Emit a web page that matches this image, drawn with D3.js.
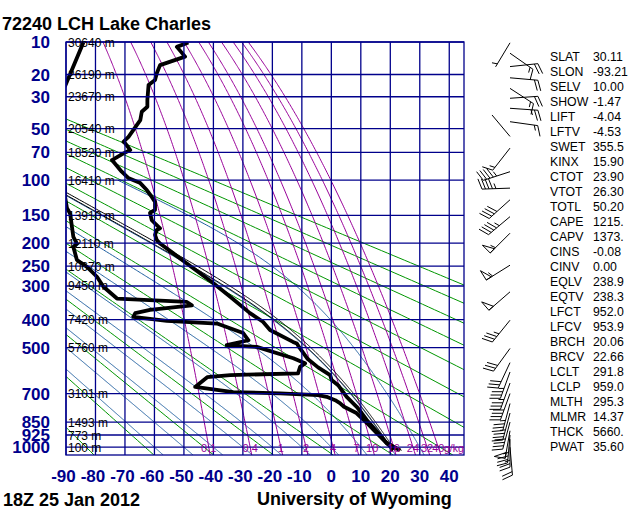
<!DOCTYPE html>
<html><head><meta charset="utf-8">
<script src="https://cdn.jsdelivr.net/npm/d3@7"></script>
<style>body{margin:0;background:#fff}svg{display:block}text{font-family:"Liberation Sans",Arial,Helvetica,sans-serif}</style>
</head><body>
<svg id="c" width="640" height="512"></svg>
<script>
// ---------- data ----------
const presLevels = [10,20,30,50,70,100,150,200,250,300,400,500,700,850,925,1000];
const presLabels = ["10","20","30","50","70","100","150","200","250","300","400","500","700","850","925","1000"];
const heightLabels = ["30640 m","26190 m","23670 m","20540 m","18520 m","16410 m","13910 m","12110 m","10670 m","9450 m","7420 m","5760 m","3101 m","1493 m","773 m","100 m"];
const tempTicks = [-90,-80,-70,-60,-50,-40,-30,-20,-10,0,10,20,30,40];
const mixRatios = [0.1,0.4,1,2,4,7,10,16,24,32,40];
const mixLabels = ["0.1","0.4","1","2","4","7","10","16","24","32","40"];
const dryThetas = [190,210,230,250,270,290,310,330,350,370,390,410,430,450];
const moistThetaW = [-60,-50,-40,-30,-20,-10,0,10,20,30];

const tempP = [1019,976,925,838,800,767,716,660,636,614,580,545,500,484,478,435,407,379,330,292,244,221,201,194,184,175,172,158,146,141,129,122,112.5,103.6,97.3,90,77.5,70.9,67.8,61.8,60.4,56.3,43.9,38.5,35.5,31.7,24.4,22.2,19.5,16.6,13.9,11.2,10.1];
const tempT = [23.3,18.8,16.5,12.0,10.3,8.6,5.2,2.3,0.1,-0.4,-4.5,-8.0,-10.8,-11.7,-13.0,-20.8,-23.2,-27.6,-34.3,-40.1,-49.0,-53.7,-58.1,-59.2,-59.8,-59.2,-58.1,-60.9,-61.5,-59.8,-59.8,-60.9,-62.6,-64.8,-68.9,-71.1,-74.4,-70.5,-68.2,-69.9,-70.5,-68.8,-64.8,-64.3,-62.4,-62.4,-62.0,-59.8,-59.2,-58.1,-49.6,-52.4,-48.5];

const dewP = [1019,1000,925,860,800,767,748,733,716,708,699,693,668,623,614,606,578,563,542,497,490,472,446,413,404,391,379,369,355,345,335,302,276,252,236,208,201,188,169,147,138,122,108,100,30,24.8,10.1];
const dewT = [21.0,20.2,16.0,12.4,8.5,4.3,2.9,1.3,-1.6,-4.5,-17.4,-33.3,-46.2,-42.1,-34.3,-11.3,-10.6,-8.9,-12.9,-25.3,-35.5,-28.1,-29.9,-38.8,-55.8,-67.2,-66.5,-61.5,-47.3,-49.0,-72.7,-77.3,-79.5,-82.9,-86.3,-87.5,-86.3,-87.5,-88.0,-88.6,-89.7,-90.3,-90.3,-100,-100,-90.3,-84.1];

// parcel: surface pressure, mixed-layer theta, LCL pressures and LCL temperatures (K)
const parcelSfcP = 1019, parcelTheta = 295.3;
const parcelLclP = [959.0, 974.0];
const parcelLclT = [291.8, 293.1];

const windP   = [10.2,12.9,17.1,21.3,25.9,30.8,36.4,45,56,66,90,110,126,152,181,248,316,402,503,560,600,650,700,750,800,850,900,925,950,1000];
const windDir = [211,125,84,95,123,86,94,98,320,218,252,268,228,230,225,238,229,219,216,205,200,200,200,195,195,195,190,185,180,175];
const windSpd = [5,15,20,20,15,20,25,15,2,15,45,45,40,45,55,55,50,35,30,30,35,35,40,35,35,40,50,35,25,20];

const indexNames = ["SLAT","SLON","SELV","SHOW","LIFT","LFTV","SWET","KINX","CTOT","VTOT","TOTL","CAPE","CAPV","CINS","CINV","EQLV","EQTV","LFCT","LFCV","BRCH","BRCV","LCLT","LCLP","MLTH","MLMR","THCK","PWAT"];
const indexValues = ["30.11","-93.21","10.00","-1.47","-4.04","-4.53","355.5","15.90","23.90","26.30","50.20","1215.","1373.","-0.08","0.00","238.9","238.3","952.0","953.9","20.06","22.66","291.8","959.0","295.3","14.37","5660.","35.60"];

// ---------- setup ----------
const svg = d3.select("#c");
svg.append("rect").attr("width",640).attr("height",512).attr("fill","#fff");
const x = d3.scaleLinear().domain([-90,45]).range([66,464]);
const y = d3.scalePow().exponent(0.286).domain([10,1050]).range([42,455]);
const line = d3.line().x(d=>x(d[1])).y(d=>y(d[0]));

svg.append("defs").append("clipPath").attr("id","plot")
  .append("rect").attr("x",66).attr("y",42).attr("width",398).attr("height",413);
const g = svg.append("g").attr("clip-path","url(#plot)");

const NAVY="#00008b", GREEN="#009600", BLUE="#1f5fa0", PURPLE="#990099";
const Rd=287.04, Cp=1005.7, Lv=2.501e6, eps=0.622;
const es = Tc => 6.112*Math.exp(17.67*Tc/(Tc+243.5));
function dTdp(p,T){const e=es(T-273.15);const rs=eps*e/(p-e);
  return (Rd*T+Lv*rs)/(p*(Cp+Lv*Lv*rs*eps/(Rd*T*T)));}
function moist(p0,T0,p1){ // T in K, returns [p, Tc]
  const out=[[p0,T0-273.15]]; let p=p0,T=T0; const h=(p1<p0?-2:2);
  while((h<0&&p>p1)||(h>0&&p<p1)){
    const k1=dTdp(p,T),k2=dTdp(p+h/2,T+h/2*k1),k3=dTdp(p+h/2,T+h/2*k2),k4=dTdp(p+h,T+h*k3);
    T+=h/6*(k1+2*k2+2*k3+k4); p+=h; out.push([p,T-273.15]);
    if(T<150) break;
  }
  return out;
}
const pSamples = d3.range(0,201).map(i=>10*Math.pow(105,i/200));

// moist adiabats
moistThetaW.forEach(tw=>{
  const up = moist(1000,tw+273.15,100).reverse();
  const down = moist(1000,tw+273.15,1050).slice(1);
  g.append("path").attr("d",line(up.concat(down))).attr("fill","none").attr("stroke",BLUE).attr("stroke-width",1);
});
// dry adiabats
dryThetas.forEach(th=>{
  const pts=pSamples.map(p=>[p, th*Math.pow(p/1000,0.286)-273.15]);
  g.append("path").attr("d",line(pts)).attr("fill","none").attr("stroke",GREEN).attr("stroke-width",1);
});
// mixing ratio lines
function mixT(w,p){const e=w*p/(622+w);const L=Math.log(e/6.112);return 243.5*L/(17.67-L);}
mixRatios.forEach(w=>{
  const pts=pSamples.map(p=>[p,mixT(w,p)]);
  g.append("path").attr("d",line(pts)).attr("fill","none").attr("stroke",PURPLE).attr("stroke-width",1);
});
// grid
presLevels.forEach(p=>{
  svg.append("line").attr("x1",66).attr("x2",464).attr("y1",y(p)).attr("y2",y(p)).attr("stroke",NAVY).attr("stroke-width",1.3);
});
tempTicks.forEach(t=>{
  svg.append("line").attr("x1",x(t)).attr("x2",x(t)).attr("y1",42).attr("y2",455).attr("stroke",NAVY).attr("stroke-width",1.3);
});
svg.append("rect").attr("x",66).attr("y",42).attr("width",398).attr("height",413).attr("fill","none").attr("stroke",NAVY).attr("stroke-width",1.3);

// mixing ratio labels
mixRatios.forEach((w,i)=>{
  svg.append("text").attr("x",x(mixT(w,1000))).attr("y",452).attr("text-anchor","middle")
    .attr("font-size",11).attr("fill",PURPLE).text(mixLabels[i]);
});
svg.append("text").attr("x",444).attr("y",452).attr("font-size",10.5).attr("fill",PURPLE).text("g/kg");

// height labels
presLevels.forEach((p,i)=>{
  svg.append("text").attr("x",68).attr("y",y(p)+4.5).attr("font-size",12).attr("fill","#000").text(heightLabels[i]);
});

// parcel lines
parcelLclP.forEach((pl,i)=>{
  const dry=d3.range(parcelSfcP,pl-0.01,-2).concat([pl]).map(p=>[p,parcelTheta*Math.pow(p/1000,0.286)-273.15]);
  const m=moist(pl,parcelLclT[i],100).slice(1);
  g.append("path").attr("d",line(dry.concat(m))).attr("fill","none").attr("stroke","#000").attr("stroke-width",1);
});

// soundings
const tData=tempP.map((p,i)=>[p,tempT[i]]);
const dData=dewP.map((p,i)=>[p,dewT[i]]);
[tData,dData].forEach(d=>{
  g.append("path").attr("d",line(d)).attr("fill","none").attr("stroke","#000").attr("stroke-width",3.8).attr("stroke-linejoin","round");
});

// axis labels
presLevels.forEach((p,i)=>{
  svg.append("text").attr("x",50).attr("y",y(p)+6).attr("text-anchor","end").attr("font-size",17)
    .attr("font-weight","bold").attr("fill",NAVY).text(presLabels[i]);
});
tempTicks.forEach(t=>{
  svg.append("text").attr("x",x(t)-(t<0?2.5:0)).attr("y",482).attr("text-anchor","middle").attr("font-size",17)
    .attr("font-weight","bold").attr("fill",NAVY).text(String(t));
});

// titles
svg.append("text").attr("x",2).attr("y",30).attr("font-size",18).attr("font-weight","bold").text("72240 LCH Lake Charles");
svg.append("text").attr("x",3).attr("y",506).attr("font-size",18).attr("font-weight","bold").text("18Z 25 Jan 2012");
svg.append("text").attr("x",257).attr("y",505).attr("font-size",18).attr("font-weight","bold").text("University of Wyoming");

// indices
indexNames.forEach((n,i)=>{
  svg.append("text").attr("x",550).attr("y",61+15*i).attr("font-size",12.3).text(n);
  svg.append("text").attr("x",593).attr("y",61+15*i).attr("font-size",12.3).text(indexValues[i]);
});

// wind barbs
const gB=svg.append("g").attr("stroke","#000").attr("stroke-width",1).attr("fill","none");
windP.forEach((p,i)=>{
  const sx=510, sy=y(p), L=28, fl=11, sp=3.5;
  const r=windDir[i]*Math.PI/180, dx=Math.sin(r), dy=-Math.cos(r);
  const tx=sx+L*dx, ty=sy+L*dy, rx=-dy, ry=dx;
  gB.append("line").attr("x1",sx).attr("y1",sy).attr("x2",tx).attr("y2",ty);
  const a=20*Math.PI/180, fx=rx*Math.cos(a)+dx*Math.sin(a), fy=ry*Math.cos(a)+dy*Math.sin(a);
  let s=Math.round(windSpd[i]/5)*5, pos=0;
  const pt=d=>[tx-d*dx, ty-d*dy];
  while(s>=50){const [ax,ay]=pt(pos),[bx,by]=pt(pos+6);
    gB.append("path").attr("d",`M${ax},${ay}L${ax+fl*rx},${ay+fl*ry}L${bx},${by}Z`).attr("fill","none");
    pos+=7.5; s-=50;}
  while(s>=10){const [ax,ay]=pt(pos);
    gB.append("line").attr("x1",ax).attr("y1",ay).attr("x2",ax+fl*fx).attr("y2",ay+fl*fy); pos+=sp; s-=10;}
  if(s>=5){ if(pos===0) pos=sp; const [ax,ay]=pt(pos);
    gB.append("line").attr("x1",ax).attr("y1",ay).attr("x2",ax+fl/2*fx).attr("y2",ay+fl/2*fy);}
});
</script>
</body></html>
